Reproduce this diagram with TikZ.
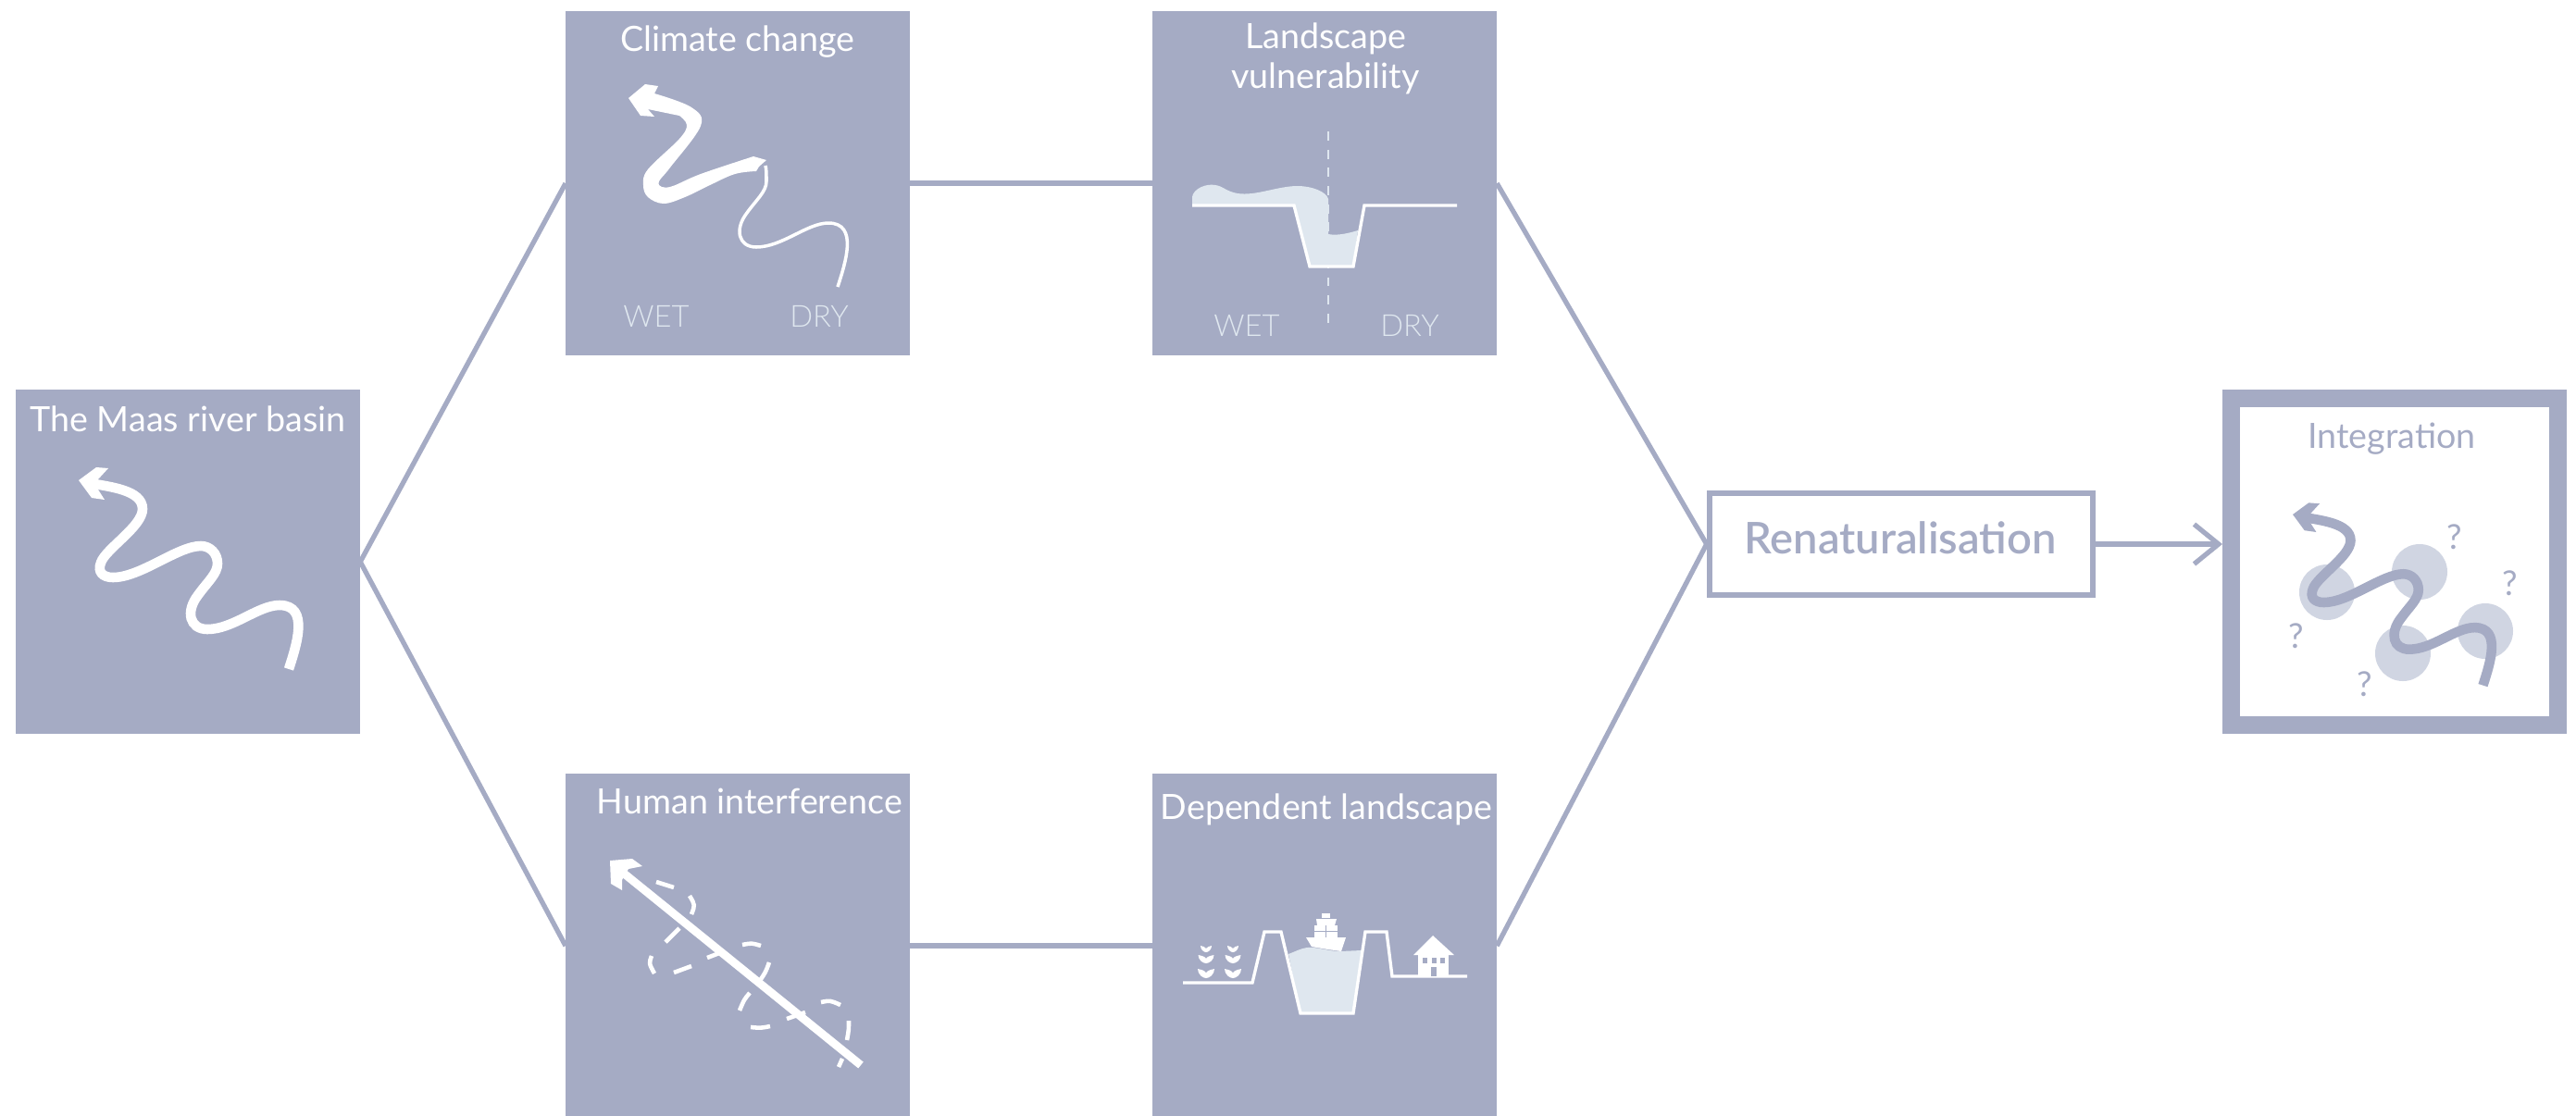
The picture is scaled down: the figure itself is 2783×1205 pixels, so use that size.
\documentclass[tikz,border=0pt]{standalone}
\usepackage{fontspec}
\setmainfont{Lato}[BoldFont=* Semibold]
\newfontfamily\lightfont{Lato Light}
\usetikzlibrary{arrows.meta}
\definecolor{slate}{HTML}{A5ABC4}
\definecolor{pale}{HTML}{DFE7EF}
\definecolor{haze}{HTML}{D0D5E2}
\tikzset{
panel/.style={fill=slate,minimum size=3.72cm,anchor=north west,inner sep=0pt,outer sep=0pt},
link/.style={draw=slate,line width=1.5pt},
paneltitle/.style={anchor=base,text=white,font=\fontsize{10.7}{12.2}\selectfont,align=center,inner sep=0pt},
sidelabel/.style={anchor=base,text=pale,font=\lightfont\fontsize{9.3}{12}\selectfont,inner sep=0pt},
query/.style={text=slate,font=\fontsize{10.5}{12}\selectfont,inner sep=0pt},
riverline/.style={line width=3pt},
bankline/.style={white,line width=.95pt,line join=miter},
sprout/.pic={
    \fill[white] (-1,0) .. controls (-1,.6) and (-.4,1) .. (0,1) .. controls (.4,1) and (1,.6) .. (1,0)
        .. controls (.5,.1) and (.1,.2) .. (0,.45) .. controls (-.1,.2) and (-.5,.1) .. (-1,0);
},
}
% river as seen in the panels, tail to head, in pixels from the panel corner
\newcommand{\riverlow}{(295,302) .. controls (303,277) and (318,233) .. (285,233)
    .. controls (262,233) and (235,259) .. (207,259)
    .. controls (188,259) and (183,240) .. (197,222)
    .. controls (207,208) and (218,199) .. (218,188)}
\newcommand{\riverup}{.. controls (218,177) and (210,169) .. (200,169)
    .. controls (175,169) and (135,203) .. (105,203)
    .. controls (94,203) and (88,197) .. (92,187)
    .. controls (97,172) and (137,148) .. (137,129)
    .. controls (137,108) and (100,105) .. (80,101)}
\newcommand{\riverhead}{(68,98) -- (87,84) -- (100,85) -- (89,97) -- (89,108) -- (96,119) -- (82,117) -- cycle}
\newcommand{\fullriver}[1]{\draw[riverline,#1] \riverlow \riverup; \fill[#1] \riverhead;}
\newcommand{\plantrow}[1]{
    \pic[xscale=6,yscale=7] at (#1,186) {sprout};
    \pic[xscale=8.5,yscale=9] at (#1,196) {sprout};
    \pic[xscale=9,yscale=10] at (#1,211) {sprout};
}

\begin{document}
\begin{tikzpicture}[x=0.01cm,y=-0.01cm]
    \useasboundingbox (0,0) rectangle (2783,1205);
    % panels
    \node[panel] (maas) at (17,421) {};
    \node[panel] (climate) at (611,12) {};
    \node[panel] (landscape) at (1245,12) {};
    \node[panel] (human) at (611,836) {};
    \node[panel] (dependent) at (1245,836) {};
    \node[draw=slate,line width=1.8pt,minimum width=4.14cm,minimum height=1.10cm] (reno) at (2054,588) {};
    \node[panel,fill=white,draw=slate,line width=5.4pt,minimum size=3.53cm,outer sep=.5\pgflinewidth] (integ) at (2401,421) {};
    \coordinate (integin) at (integ.west |- reno.east);
    % connectors
    \draw[link] (climate.west) -- (maas.east) -- (human.west);
    \draw[link] (climate.east) -- (landscape.west);
    \draw[link] (human.east) -- (dependent.west);
    \draw[link] (landscape.east) -- (reno.west) -- (dependent.east);
    \draw[link,-{Straight Barb[length=7.5pt,width=12.2pt]}] (reno.east) -- (integin);
    % titles
    \node[paneltitle,text=slate,font=\fontsize{13.4}{15}\bfseries] (renotitle) at (2053,598) {Renaturalisation};
    \node[paneltitle] (maastitle) at (203,466) {The Maas river basin};
    \node[paneltitle] (climatetitle) at (797,55) {Climate change};
    \node[paneltitle] (landscapetitle) at (1432,95) {Landscape\\vulnerability};
    \node[paneltitle] (humantitle) at (810,879) {Human interference};
    \node[paneltitle] (dependenttitle) at (1433,885) {Dependent landscape};
    \node[paneltitle,text=slate] (integtitle) at (2584,484) {Integration};
    \node[sidelabel] (climatewet) at (709,353) {WET};
    \node[sidelabel] (climatedry) at (885,353) {DRY};
    \node[sidelabel] (landscapewet) at (1347,363) {WET};
    \node[sidelabel] (landscapedry) at (1523,363) {DRY};
    % maas river
    \begin{scope}[shift={(maas.north west)}]
        \fullriver{white}
    \end{scope}
    % climate river, thick upstream
    \begin{scope}[shift={(climate.north west)}]
        \fill[white] plot[smooth,tension=.6] coordinates {(203,157) (146,176) (116,189) (104,190) (101,184) (113,169) (146,124) (136,104) (96,89)}
            -- (100,81) -- (86,79) -- (68,94) -- (81,113) -- (96,114) -- (89,106)
            -- plot[smooth,tension=.6] coordinates {(123,113) (131,123) (123,138) (89,171) (84,188) (89,201) (106,208) (129,201) (156,188) (183,176) (206,173)}
            -- (209,168) -- (217,161) -- cycle;
        \draw[white,line width=1pt,shift={(-1,-4)}] \riverlow .. controls (218,180) and (218,175) .. (217,171);
    \end{scope}
    % vulnerable cross section
    \begin{scope}[shift={(landscape.north west)}]
        \fill[pale] (43,210) -- (43,201) .. controls (44,192) and (58,186) .. (68,188)
            .. controls (76,189) and (80,195) .. (92,197) .. controls (112,200) and (135,189) .. (157,189)
            .. controls (172,189) and (188,195) .. (190,203) -- (190,241) .. controls (200,243) and (212,240) .. (222,237)
            -- (217,276) -- (170,276) -- (153,210) -- cycle;
        \draw[pale,line width=.6pt,dash pattern=on 2.8pt off 2.8pt] (190,130) -- (190,341);
        \draw[bankline] (43,210) -- (153,210) -- (170,276) -- (217,276) -- (229,210) -- (329,210);
    \end{scope}
    % straightened river and old meanders
    \begin{scope}[shift={(human.north west)}]
        \draw[white,line width=2.5pt] (319,315) -- (62,107);
        \fill[white] (48,94) -- (72,92) -- (83,100) -- (68,103) -- (61,115) -- (61,126) -- (49,119) -- cycle;
        \foreach \ax/\ay/\bx/\by/\cx/\cy in {98/117/108/120/117/123, 134/132/140/142/136/152, 123/167/116/175/108/182,
            93/197/90/205/96/216, 117/215/127/212/136/208, 153/199/159/197/166/194, 191/185/201/183/211/186,
            220/204/216/215/209/225, 199/237/193/244/188/256, 200/274/211/275/221/273, 239/265/249/261/259/258,
            276/247/286/245/297/250, 306/267/306/277/304/288, 299/308/297/313/295/317}
            \draw[white,line width=1.3pt] (\ax,\ay) .. controls (\bx,\by) .. (\cx,\cy);
    \end{scope}
    % dependent cross section
    \begin{scope}[shift={(dependent.north west)}]
        \fill[pale] (147,195) .. controls (155,192) and (160,189) .. (167,188) .. controls (178,187) and (190,192) .. (203,192)
            -- (226,191) -- (217,259) -- (160,259) -- cycle;
        \draw[bankline] (33,226) -- (108,226) -- (121,171) -- (139,171) -- (160,259) -- (217,259) -- (230,171) -- (253,171) -- (259,219) -- (340,219);
        % ship
        \fill[white] (166,177) -- (209,177) -- (204,192) -- (190,190) -- (172,187) -- cycle;
        \fill[white] (175,164) rectangle (200,177);
        \fill[white] (177,157) -- (199,157) -- (197,164) -- (178,164) -- cycle;
        \fill[white] (183,151) rectangle (192,156);
        \draw[slate,line width=.2pt] (175,170) -- (200,170) (187,164) -- (187,177);
        % house
        \fill[white] (282,196) -- (303,175) -- (326,196) -- cycle;
        \fill[white] (287,196) rectangle (320,219);
        \foreach \wx in {292,302,311}
            \fill[slate] (\wx,199) rectangle +(4.5,5.5);
        \fill[slate] (301,209) rectangle (307,219);
        % crops
        \plantrow{58}
        \plantrow{87}
    \end{scope}
    % integration
    \begin{scope}[shift={(integ.north west)}]
        \foreach \px/\py in {113/219,213/197,195/285,284/261}
            \fill[haze] (\px,\py) circle (30);
        \node[query] (queryone) at (80,266) {?};
        \node[query] (querytwo) at (251,159) {?};
        \node[query] (querythree) at (311,209) {?};
        \node[query] (queryfour) at (154,318) {?};
        \begin{scope}[shift={(14.5,46.3)},scale=.905]
            \fullriver{slate}
        \end{scope}
    \end{scope}
\end{tikzpicture}
\end{document}
